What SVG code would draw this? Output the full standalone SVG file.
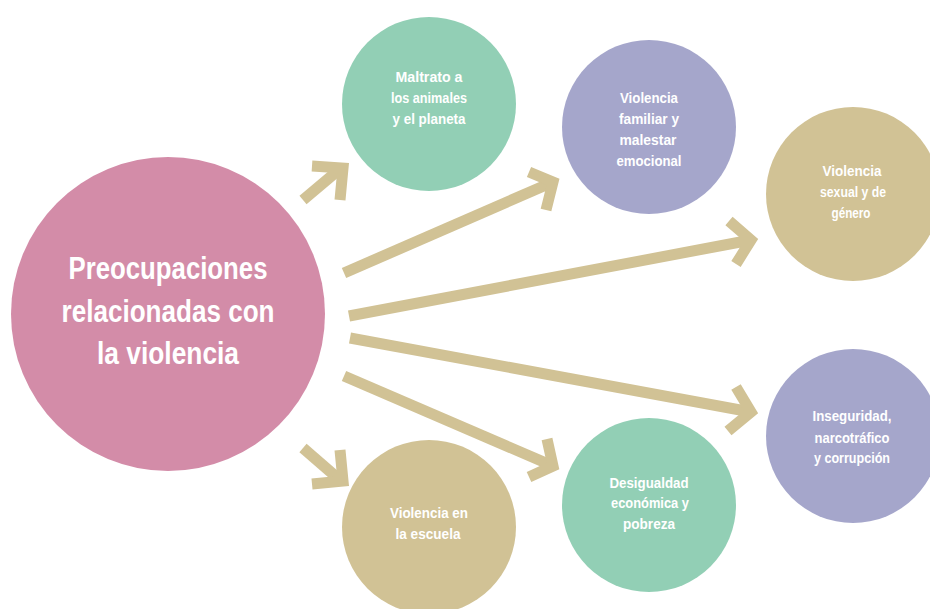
<svg xmlns="http://www.w3.org/2000/svg" width="930" height="609" viewBox="0 0 930 609">
<style>
.pink{fill:#D38CA8}.green{fill:#92CFB5}.lav{fill:#A5A6CB}.tan{fill:#D1C295}
.t{fill:#fff;font-family:"Liberation Sans Narrow","Liberation Sans",Arial,sans-serif;font-weight:bold;font-size:15px;text-anchor:middle}
.big{font-size:31px}
.arr path{fill:none;stroke:#D1C295;stroke-width:11;stroke-linejoin:miter;stroke-miterlimit:10;stroke-linecap:butt}
</style>
<rect width="930" height="609" fill="#fff"/>
<g id="connectors" class="arr">
<path d="M303,200 L341,168"/><path d="M312,166 L343,168 L340,200"/>
<path d="M344,273 L553,182"/><path d="M529,172 L553,182 L546,210"/>
<path d="M349,316 L751,240"/><path d="M729,221 L751,240 L736,264"/>
<path d="M350,338 L751,412"/><path d="M736,387 L751,412 L728,431"/>
<path d="M344,376 L553,466"/><path d="M547,439 L553,466 L529,477"/>
<path d="M303,448 L341,481"/><path d="M340,450 L343,481 L312,484"/>
</g>
<g id="main"><circle class="pink" cx="168" cy="314" r="157"/>
<text class="t big" x="168" y="279" textLength="199" lengthAdjust="spacingAndGlyphs">Preocupaciones</text>
<text class="t big" x="168" y="322" textLength="213" lengthAdjust="spacingAndGlyphs">relacionadas con</text>
<text class="t big" x="168" y="364" textLength="142" lengthAdjust="spacingAndGlyphs">la violencia</text></g>
<g id="maltrato"><circle class="green" cx="429" cy="104" r="87"/>
<text class="t" x="429" y="82" textLength="67" lengthAdjust="spacingAndGlyphs">Maltrato a</text>
<text class="t" x="429" y="103" textLength="76" lengthAdjust="spacingAndGlyphs">los animales</text>
<text class="t" x="429" y="124" textLength="73" lengthAdjust="spacingAndGlyphs">y el planeta</text></g>
<g id="familiar"><circle class="lav" cx="649" cy="127" r="87"/>
<text class="t" x="649" y="103" textLength="58" lengthAdjust="spacingAndGlyphs">Violencia</text>
<text class="t" x="649" y="124" textLength="60" lengthAdjust="spacingAndGlyphs">familiar y</text>
<text class="t" x="648" y="145" textLength="57" lengthAdjust="spacingAndGlyphs">malestar</text>
<text class="t" x="649" y="166" textLength="65" lengthAdjust="spacingAndGlyphs">emocional</text></g>
<g id="sexual"><circle class="tan" cx="853" cy="194" r="87"/>
<text class="t" x="852" y="176" textLength="59" lengthAdjust="spacingAndGlyphs">Violencia</text>
<text class="t" x="853" y="197" textLength="66" lengthAdjust="spacingAndGlyphs">sexual y de</text>
<text class="t" x="851" y="218" textLength="39" lengthAdjust="spacingAndGlyphs">género</text></g>
<g id="inseguridad"><circle class="lav" cx="853" cy="436" r="87"/>
<text class="t" x="852" y="421" textLength="79" lengthAdjust="spacingAndGlyphs">Inseguridad,</text>
<text class="t" x="852" y="443" textLength="75" lengthAdjust="spacingAndGlyphs">narcotráfico</text>
<text class="t" x="852" y="463" textLength="76" lengthAdjust="spacingAndGlyphs">y corrupción</text></g>
<g id="desigualdad"><circle class="green" cx="649" cy="505" r="87"/>
<text class="t" x="649" y="488" textLength="79" lengthAdjust="spacingAndGlyphs">Desigualdad</text>
<text class="t" x="650" y="508" textLength="78" lengthAdjust="spacingAndGlyphs">económica y</text>
<text class="t" x="649" y="529" textLength="52" lengthAdjust="spacingAndGlyphs">pobreza</text></g>
<g id="escuela"><circle class="tan" cx="429" cy="527" r="87"/>
<text class="t" x="429" y="518" textLength="78" lengthAdjust="spacingAndGlyphs">Violencia en</text>
<text class="t" x="428" y="539" textLength="65" lengthAdjust="spacingAndGlyphs">la escuela</text></g>
</svg>
